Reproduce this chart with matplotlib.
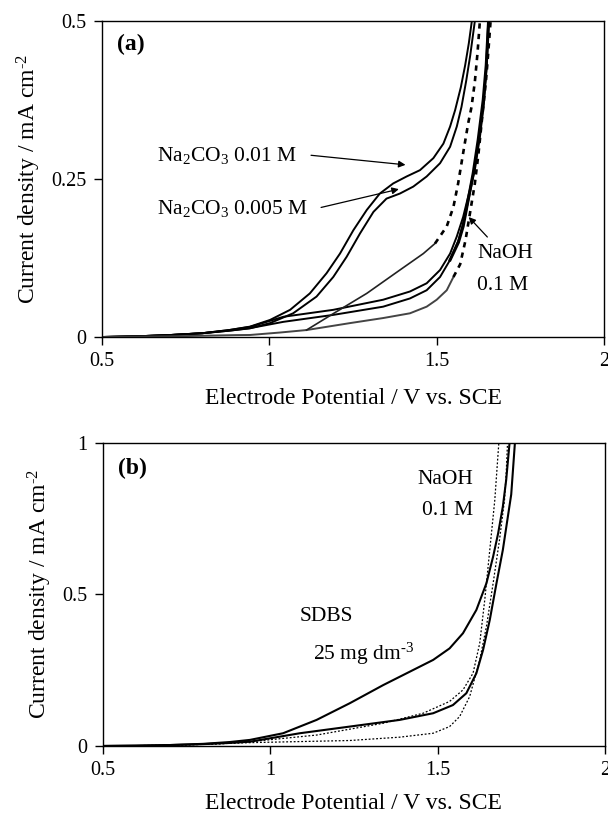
import matplotlib
matplotlib.use("Agg")
import matplotlib.pyplot as plt

plt.rcParams['font.family'] = ['Liberation Serif', 'DejaVu Serif']
plt.rcParams['mathtext.fontset'] = 'custom'
plt.rcParams['mathtext.rm'] = 'Liberation Serif'
plt.rcParams['mathtext.it'] = 'Liberation Serif:italic'

# ---------------- panel (a): potential (V vs SCE) / current density (mA cm-2) ----------------
co3_01_fwd_x = [0.5, 0.6, 0.7, 0.8, 0.88, 0.942, 1.002, 1.062, 1.121, 1.171, 1.211, 1.251, 1.291, 1.330,
                1.370, 1.410, 1.450, 1.490, 1.520, 1.540, 1.555, 1.572, 1.585, 1.596, 1.605]
co3_01_fwd_y = [0.0, 0.001, 0.003, 0.006, 0.011, 0.0164, 0.027, 0.043, 0.069, 0.101, 0.132, 0.169, 0.201, 0.227,
                0.243, 0.254, 0.264, 0.283, 0.306, 0.333, 0.359, 0.395, 0.430, 0.465, 0.5]
co3_005_fwd_x = [0.5, 0.6, 0.7, 0.8, 0.88, 0.942, 1.002, 1.071, 1.141, 1.191, 1.231, 1.271, 1.311, 1.350,
                 1.390, 1.430, 1.470, 1.510, 1.540, 1.560, 1.574, 1.588, 1.600, 1.614]
co3_005_fwd_y = [0.0, 0.001, 0.003, 0.006, 0.010, 0.0137, 0.022, 0.0375, 0.064, 0.095, 0.127, 0.164, 0.198, 0.219,
                 0.227, 0.238, 0.254, 0.275, 0.301, 0.333, 0.364, 0.405, 0.445, 0.5]
co3_01_rev_x = [0.5, 0.6, 0.7, 0.8, 0.88, 0.942, 1.042, 1.191, 1.340, 1.420, 1.470, 1.510, 1.540, 1.560,
                1.579, 1.599, 1.614, 1.629, 1.639, 1.647, 1.654]
co3_01_rev_y = [0.0, 0.001, 0.003, 0.006, 0.011, 0.016, 0.032, 0.043, 0.059, 0.072, 0.085, 0.106, 0.132, 0.159,
                0.190, 0.233, 0.270, 0.322, 0.364, 0.420, 0.5]
co3_005_rev_x = [0.5, 0.6, 0.7, 0.8, 0.88, 0.942, 1.042, 1.191, 1.340, 1.420, 1.470, 1.510, 1.540, 1.565,
                 1.584, 1.600, 1.615, 1.630, 1.641, 1.649, 1.656]
co3_005_rev_y = [0.0, 0.001, 0.003, 0.006, 0.010, 0.014, 0.024, 0.035, 0.048, 0.061, 0.074, 0.095, 0.122, 0.153,
                 0.190, 0.230, 0.268, 0.320, 0.370, 0.425, 0.5]
naoh_solid_x = [1.540, 1.565, 1.579, 1.594, 1.609, 1.624, 1.639, 1.648, 1.655]
naoh_solid_y = [0.122, 0.150, 0.175, 0.217, 0.259, 0.312, 0.375, 0.430, 0.5]
naoh_base_x = [0.5, 0.6, 0.7, 0.8, 0.9, 0.942, 1.03, 1.111, 1.241, 1.340, 1.420, 1.470, 1.500, 1.530, 1.550]
naoh_base_y = [0.0, 0.0005, 0.001, 0.002, 0.003, 0.0032, 0.007, 0.011, 0.022, 0.030, 0.0375, 0.048, 0.059, 0.074, 0.095]
naoh_dash2_x = [1.550, 1.570, 1.586, 1.601, 1.614, 1.625, 1.635, 1.647, 1.654, 1.661]
naoh_dash2_y = [0.095, 0.115, 0.153, 0.201, 0.243, 0.291, 0.343, 0.404, 0.450, 0.5]
naoh_branch_x = [1.111, 1.191, 1.291, 1.390, 1.460, 1.495]
naoh_branch_y = [0.011, 0.037, 0.069, 0.106, 0.132, 0.148]
naoh_dash1_x = [1.495, 1.530, 1.550, 1.564, 1.579, 1.594, 1.604, 1.614, 1.622, 1.629]
naoh_dash1_y = [0.148, 0.175, 0.206, 0.243, 0.291, 0.338, 0.364, 0.404, 0.450, 0.5]

# ---------------- panel (b) ----------------
sdbs_fwd_x = [0.5, 0.6, 0.7, 0.8, 0.88, 0.940, 1.039, 1.139, 1.238, 1.338, 1.417, 1.487, 1.536, 1.576,
              1.616, 1.646, 1.666, 1.681, 1.695, 1.705, 1.715]
sdbs_fwd_y = [0.0, 0.001, 0.003, 0.007, 0.013, 0.020, 0.042, 0.086, 0.141, 0.201, 0.245, 0.284, 0.322, 0.372,
              0.449, 0.537, 0.625, 0.702, 0.790, 0.878, 1.0]
sdbs_rev_x = [0.5, 0.6, 0.7, 0.8, 0.88, 0.940, 1.089, 1.238, 1.387, 1.487, 1.546, 1.586, 1.616, 1.636,
              1.656, 1.676, 1.695, 1.710, 1.720, 1.731]
sdbs_rev_y = [0.0, 0.001, 0.003, 0.006, 0.010, 0.014, 0.042, 0.064, 0.086, 0.108, 0.135, 0.174, 0.240, 0.317,
              0.416, 0.537, 0.647, 0.757, 0.830, 1.0]
naoh_b1_x = [0.5, 0.7, 0.85, 0.94, 1.139, 1.338, 1.457, 1.536, 1.576, 1.606, 1.626, 1.641, 1.651, 1.661, 1.671, 1.683]
naoh_b1_y = [0.0, 0.002, 0.007, 0.014, 0.036, 0.075, 0.108, 0.147, 0.185, 0.240, 0.339, 0.482, 0.592, 0.702, 0.812, 1.0]
naoh_b2_x = [0.5, 0.7, 0.94, 1.238, 1.387, 1.487, 1.536, 1.566, 1.596, 1.626, 1.646, 1.666, 1.685, 1.700, 1.705, 1.709]
naoh_b2_y = [0.0, 0.002, 0.011, 0.018, 0.029, 0.042, 0.064, 0.097, 0.163, 0.284, 0.394, 0.537, 0.680, 0.812, 0.900, 1.0]

fig = plt.figure(figsize=(6.08, 8.15), dpi=100)
ax1 = fig.add_axes([0.1678, 0.5865, 0.8257, 0.3877])
ax2 = fig.add_axes([0.1686, 0.0847, 0.8265, 0.3718])

k = 'black'
dash = (0, (2.0, 2.0))
ax1.plot(co3_01_fwd_x, co3_01_fwd_y, color=k, lw=1.4)
ax1.plot(co3_005_fwd_x, co3_005_fwd_y, color=k, lw=1.4)
ax1.plot(co3_01_rev_x, co3_01_rev_y, color=k, lw=1.4)
ax1.plot(co3_005_rev_x, co3_005_rev_y, color=k, lw=1.4)
ax1.plot(naoh_solid_x, naoh_solid_y, color=k, lw=2.2)
ax1.plot(naoh_base_x, naoh_base_y, color='#444444', lw=1.4)
ax1.plot(naoh_branch_x, naoh_branch_y, color='#222222', lw=1.2)
ax1.plot(naoh_dash1_x, naoh_dash1_y, color=k, lw=1.9, linestyle=dash)
ax1.plot(naoh_dash2_x, naoh_dash2_y, color=k, lw=1.9, linestyle=dash)

ax2.plot(sdbs_fwd_x, sdbs_fwd_y, color=k, lw=1.5)
ax2.plot(sdbs_rev_x, sdbs_rev_y, color=k, lw=1.5)
ax2.plot(naoh_b1_x, naoh_b1_y, color=k, lw=0.9, linestyle=(0, (1.5, 1.5)))
ax2.plot(naoh_b2_x, naoh_b2_y, color=k, lw=0.9, linestyle=(0, (1.5, 1.5)))

for ax, ylim, yt, ytl, lp in [(ax1, 0.5, [0, 0.25, 0.5], ['0', '0.25', '0.5'], 12),
                              (ax2, 1.0, [0, 0.5, 1.0], ['0', '0.5', '1'], 9)]:
    ax.set_xlim(0.5, 2)
    ax.set_ylim(0, ylim)
    ax.set_xticks([0.5, 1, 1.5, 2])
    ax.set_xticklabels(['0.5', '1', '1.5', '2'])
    ax.set_yticks(yt)
    ax.set_yticklabels(ytl)
    ax.tick_params(direction='out', length=6, width=1, labelsize=14.5, pad=5)
    for s in ax.spines.values():
        s.set_linewidth(1.0)
    ax.set_xlabel('Electrode Potential / V vs. SCE', fontsize=17, labelpad=lp)
    ax.set_ylabel('Current density / mA cm$^{\u20102}$', fontsize=17, labelpad=6)

ax1.text(0.545, 0.463, '(a)', fontsize=17, fontweight='bold', va='center')
ax2.text(0.545, 0.917, '(b)', fontsize=17, fontweight='bold', va='center')

arr = dict(arrowstyle='-|>', color=k, lw=0.9, mutation_scale=10)
ax1.annotate('Na$_2$CO$_3$ 0.01 M', xy=(1.415, 0.272), xytext=(0.664, 0.288),
             fontsize=15.5, va='center', ha='left', arrowprops=dict(arr, relpos=(1.08, 0.5)))
ax1.annotate('Na$_2$CO$_3$ 0.005 M', xy=(1.395, 0.235), xytext=(0.664, 0.204),
             fontsize=15.5, va='center', ha='left', arrowprops=dict(arr, relpos=(1.07, 0.5)))
ax1.annotate('', xy=(1.590, 0.193), xytext=(1.657, 0.155), arrowprops=arr)
ax1.text(1.622, 0.132, 'NaOH', fontsize=15.5, va='center', ha='left')
ax1.text(1.619, 0.082, '0.1 M', fontsize=15.5, va='center', ha='left')

ax2.text(1.606, 0.881, 'NaOH', fontsize=15.5, va='center', ha='right')
ax2.text(1.606, 0.776, '0.1 M', fontsize=15.5, va='center', ha='right')
ax2.text(1.089, 0.426, 'SDBS', fontsize=15.5, va='center', ha='left')
ax2.text(1.128, 0.304, '25 mg dm$^{\u20103}$', fontsize=15.5, va='center', ha='left')

fig.savefig('out.png', dpi=100)
